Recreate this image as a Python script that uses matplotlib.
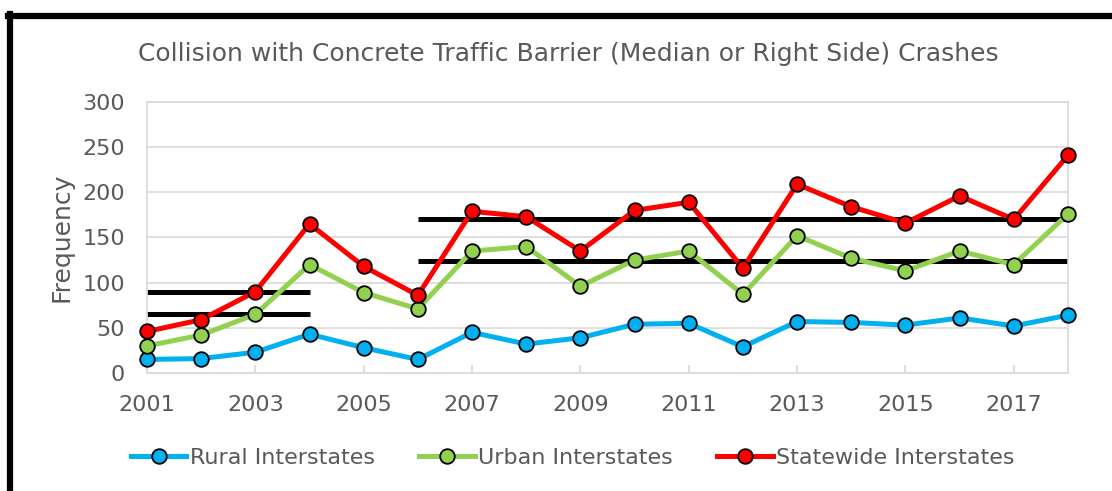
import matplotlib.pyplot as plt
from matplotlib.lines import Line2D

# Data
years = list(range(2001, 2019))
rural = [15, 16, 23, 43, 28, 15, 45, 32, 39, 54, 55, 29, 57, 56, 53, 61, 52, 64]
urban = [30, 42, 65, 120, 89, 71, 135, 140, 96, 125, 135, 87, 152, 127, 113, 135, 120, 176]
statewide = [46, 59, 90, 165, 118, 86, 179, 173, 135, 180, 189, 116, 209, 184, 166, 196, 170, 241]

# Period average levels (black bars)
period_spans = [(2001, 2004), (2006, 2018)]
period_statewide = [90, 171]
period_urban = [65, 124]

series_names = ['Rural Interstates', 'Urban Interstates', 'Statewide Interstates']
series_colors = ['#00B0F0', '#92D050', '#FF0000']
tick_years = list(range(2001, 2019, 2))

plt.rcParams['font.family'] = ['DejaVu Sans']
textColor = '#595959'
gridColor = '#D9D9D9'

fig = plt.figure(figsize=(11.12, 4.91), dpi=100)
ax = fig.add_axes([0.1322, 0.2403, 0.8282, 0.552])

# Period average lines, drawn under the series
for (x0, x1), s_lvl, u_lvl in zip(period_spans, period_statewide, period_urban):
    ax.plot([x0, x1], [s_lvl, s_lvl], color='black', linewidth=3.6,
            solid_capstyle='butt', zorder=2)
    ax.plot([x0, x1], [u_lvl, u_lvl], color='black', linewidth=3.6,
            solid_capstyle='butt', zorder=2)

for data, name, color in zip([rural, urban, statewide], series_names, series_colors):
    ax.plot(years, data, color=color, linewidth=3.6, marker='o', markersize=10.5,
            markerfacecolor=color, markeredgecolor='black', markeredgewidth=1.3,
            label=name, zorder=3, clip_on=False)

ax.set_xlim(2001, 2018)
ax.set_ylim(0, 300)
ax.set_yticks(range(0, 301, 50))
ax.set_xticks(tick_years)
ax.set_xticklabels([str(y) for y in tick_years])
ax.grid(axis='y', color=gridColor, linewidth=1.2, zorder=0)
for spine in ax.spines.values():
    spine.set_color(gridColor)
    spine.set_linewidth(1.2)
ax.tick_params(axis='y', length=0, labelsize=16, colors=textColor, pad=16)
ax.tick_params(axis='x', direction='in', length=6, width=1.2, color=gridColor,
               labelsize=16, labelcolor=textColor, pad=16)
ax.set_ylabel('Frequency', fontsize=18, color=textColor, labelpad=6)

fig.text(0.511, 0.89, 'Collision with Concrete Traffic Barrier (Median or Right Side) Crashes',
         ha='center', va='center', fontsize=18, color=textColor)

fig.legend(loc='center', bbox_to_anchor=(0.515, 0.067), ncol=3, frameon=False,
           fontsize=16, labelcolor=textColor, handlelength=2.5, handletextpad=0.15,
           columnspacing=2.0)

# Black frame at the top and left edge
fig.add_artist(Line2D([0.0075, 1.0], [1 - 16 / 491, 1 - 16 / 491], color='black',
                      linewidth=4.5, transform=fig.transFigure))
fig.add_artist(Line2D([10 / 1112, 10 / 1112], [0, 1 - 14 / 491], color='black',
                      linewidth=4.5, transform=fig.transFigure))

fig.savefig('out.png', dpi=100)
